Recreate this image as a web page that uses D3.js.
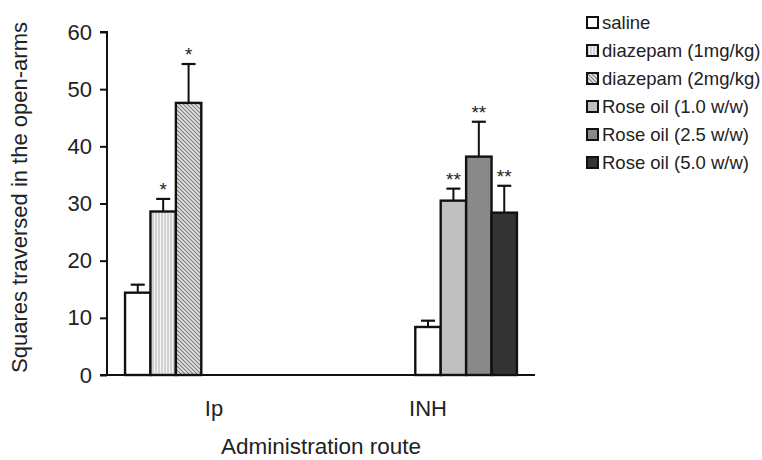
<!DOCTYPE html>
<html>
<head>
<meta charset="utf-8">
<script src="https://cdn.jsdelivr.net/npm/d3@7/dist/d3.min.js"></script>
<style>
  body { margin: 0; background: #fff; }
  text { font-family: "Liberation Sans", Arial, sans-serif; fill: #222; }
</style>
</head>
<body>
<svg id="chart"></svg>
<script>
const WIDTH = 762;
const HEIGHT = 460;

// categories on the x axis
const routes = ["Ip", "INH"];
// legend / series names
const seriesNames = [
  "saline",
  "diazepam (1mg/kg)",
  "diazepam (2mg/kg)",
  "Rose oil (1.0 w/w)",
  "Rose oil (2.5 w/w)",
  "Rose oil (5.0 w/w)",
];
const seriesFill = ["#ffffff", "url(#vstripe)", "url(#dstripe)", "#c0c0c0", "#898989", "#333333"];

// bars
const barRoute = ["Ip", "Ip", "Ip", "INH", "INH", "INH", "INH"];
const barSeries = [0, 1, 2, 0, 3, 4, 5];
const barSlot = [0, 1, 2, 3, 4, 5, 6];
const barMean = [14.4, 28.6, 47.6, 8.4, 30.5, 38.2, 28.4];
const barErr = [1.4, 2.2, 6.8, 1.1, 2.1, 6.1, 4.7];
const barStars = ["", "*", "*", "", "**", "**", "**"];

const yTicks = [0, 10, 20, 30, 40, 50, 60];

const margin = { top: 32, right: 227, bottom: 85, left: 107 };
const w = WIDTH - margin.left - margin.right;
const h = HEIGHT - margin.top - margin.bottom;

const svg = d3.select("#chart").attr("width", WIDTH).attr("height", HEIGHT);

/* patterns for the diazepam bars */
const defs = svg.append("defs");
const vp = defs.append("pattern").attr("id", "vstripe")
  .attr("patternUnits", "userSpaceOnUse").attr("width", 3).attr("height", 4);
vp.append("rect").attr("width", 3).attr("height", 4).attr("fill", "#f4f4f4");
vp.append("line").attr("x1", 1).attr("x2", 1).attr("y1", 0).attr("y2", 4)
  .attr("stroke", "#b0b0b0").attr("stroke-width", 1);
const dp = defs.append("pattern").attr("id", "dstripe")
  .attr("patternUnits", "userSpaceOnUse").attr("width", 4).attr("height", 4);
dp.append("rect").attr("width", 4).attr("height", 4).attr("fill", "#e6e6e6");
dp.append("path").attr("d", "M-1,-1L5,5M3,-1L5,1M-1,3L1,5")
  .attr("stroke", "#777").attr("stroke-width", 1.1);

const g = svg.append("g").attr("transform", `translate(${margin.left},${margin.top})`);

const x0 = d3.scaleBand().domain(routes).range([0, w]).paddingInner(0).paddingOuter(0);
const x1 = d3.scaleBand().domain(d3.range(7)).range([0, x0.bandwidth()]).paddingInner(0).paddingOuter(0.71);
const y = d3.scaleLinear().domain([0, 60]).range([h, 0]);

/* bars */
const bars = d3.range(barMean.length).map((i) => ({
  route: barRoute[i], s: barSeries[i], slot: barSlot[i],
  v: barMean[i], e: barErr[i], star: barStars[i],
}));

const bx = (d) => x0(d.route) + x1(d.slot);

g.selectAll("rect.bar").data(bars).enter().append("rect")
  .attr("class", "bar")
  .attr("x", bx)
  .attr("width", x1.bandwidth())
  .attr("y", (d) => y(d.v))
  .attr("height", (d) => h - y(d.v))
  .attr("fill", (d) => seriesFill[d.s])
  .attr("stroke", "#111").attr("stroke-width", 2.4);

/* error bars (upper only) */
const eb = g.selectAll("g.err").data(bars).enter().append("g").attr("class", "err");
eb.append("line")
  .attr("x1", (d) => bx(d) + x1.bandwidth() / 2).attr("x2", (d) => bx(d) + x1.bandwidth() / 2)
  .attr("y1", (d) => y(d.v)).attr("y2", (d) => y(d.v + d.e))
  .attr("stroke", "#111").attr("stroke-width", 2);
eb.append("line")
  .attr("x1", (d) => bx(d) + x1.bandwidth() / 2 - 7).attr("x2", (d) => bx(d) + x1.bandwidth() / 2 + 7)
  .attr("y1", (d) => y(d.v + d.e)).attr("y2", (d) => y(d.v + d.e))
  .attr("stroke", "#111").attr("stroke-width", 2.2);

g.selectAll("text.star").data(bars.filter((d) => d.star)).enter().append("text")
  .attr("class", "star")
  .attr("x", (d) => bx(d) + x1.bandwidth() / 2)
  .attr("y", (d) => y(d.v + d.e) - 3)
  .attr("text-anchor", "middle")
  .style("font-size", "19px")
  .text((d) => d.star);

/* axes */
const yAxis = g.append("g").call(d3.axisLeft(y).tickValues(yTicks).tickSize(7).tickPadding(8));
yAxis.select(".domain").attr("stroke", "#111").attr("stroke-width", 2).attr("d", `M-7,0H0V${h}`);
yAxis.selectAll(".tick line").attr("stroke", "#111").attr("stroke-width", 2);
yAxis.selectAll(".tick text").style("font-size", "22px").attr("fill", "#222");

const xAxis = g.append("g").attr("transform", `translate(0,${h})`)
  .call(d3.axisBottom(x0).tickSize(0).tickPadding(25));
xAxis.select(".domain").attr("stroke", "#111").attr("stroke-width", 2).attr("d", `M-7,0H${w}`);
xAxis.selectAll(".tick text").style("font-size", "22px").attr("fill", "#222");

g.append("text")
  .attr("x", w / 2).attr("y", h + 79)
  .attr("text-anchor", "middle")
  .style("font-size", "22.5px")
  .text("Administration route");

g.append("text")
  .attr("transform", `translate(${-80},${h / 2 - 6}) rotate(-90)`)
  .attr("text-anchor", "middle")
  .style("font-size", "22px")
  .text("Squares traversed in the open-arms");

/* legend */
const legend = svg.append("g").attr("transform", "translate(587,17)");
const li = legend.selectAll("g").data(seriesNames).enter().append("g")
  .attr("transform", (d, i) => `translate(0,${i * 28})`);
li.append("rect").attr("width", 11).attr("height", 11)
  .attr("fill", (d, i) => seriesFill[i])
  .attr("stroke", "#111").attr("stroke-width", 2);
li.append("text").attr("x", 15).attr("y", 12)
  .style("font-size", "18.5px")
  .text((d) => d);
</script>
</body>
</html>
